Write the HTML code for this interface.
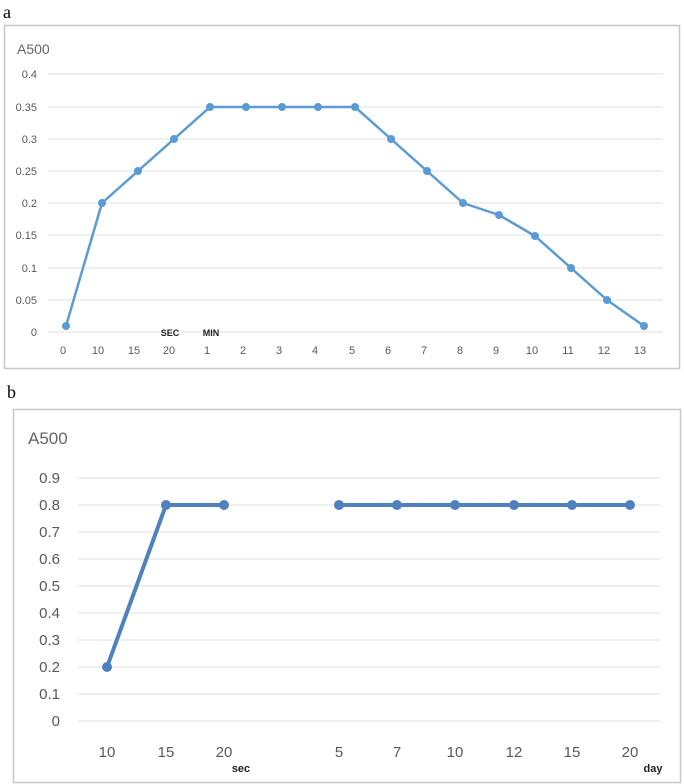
<!DOCTYPE html>
<html><head><meta charset="utf-8"><style>
html,body{margin:0;padding:0;background:#fff;}
svg{display:block;}
</style></head><body>
<svg width="684" height="784" xmlns="http://www.w3.org/2000/svg" font-family="'Liberation Sans', sans-serif">
<text x="3" y="18" font-family="'Liberation Serif', serif" font-size="18" fill="#000">a</text>
<rect x="4.5" y="25.5" width="675" height="343" fill="#fff" stroke="#c8c8c8" stroke-width="1.5"/>
<text x="17" y="54" font-size="14" fill="#666">A500</text>
<g stroke="#e2e2e2" stroke-width="1">
<line x1="48" x2="663" y1="74" y2="74"/><line x1="48" x2="663" y1="107" y2="107"/>
<line x1="48" x2="663" y1="139" y2="139"/><line x1="48" x2="663" y1="171" y2="171"/>
<line x1="48" x2="663" y1="203" y2="203"/><line x1="48" x2="663" y1="235" y2="235"/>
<line x1="48" x2="663" y1="268" y2="268"/><line x1="48" x2="663" y1="300" y2="300"/>
<line x1="48" x2="663" y1="332" y2="332"/>
</g>
<g font-size="11" fill="#595959" text-anchor="end">
<text x="37" y="78">0.4</text><text x="37" y="111">0.35</text><text x="37" y="143">0.3</text>
<text x="37" y="175">0.25</text><text x="37" y="207">0.2</text><text x="37" y="239">0.15</text>
<text x="37" y="272">0.1</text><text x="37" y="304">0.05</text><text x="37" y="336">0</text>
</g>
<g font-size="11" fill="#595959" text-anchor="middle">
<text x="63" y="354">0</text><text x="98" y="354">10</text><text x="134" y="354">15</text><text x="169" y="354">20</text>
<text x="207" y="354">1</text><text x="243" y="354">2</text><text x="279" y="354">3</text><text x="315" y="354">4</text>
<text x="352" y="354">5</text><text x="388" y="354">6</text><text x="424" y="354">7</text><text x="460" y="354">8</text>
<text x="496" y="354">9</text><text x="532" y="354">10</text><text x="568" y="354">11</text><text x="604" y="354">12</text><text x="640" y="354">13</text>
</g>
<text x="170" y="336" font-size="9" font-weight="bold" fill="#222" text-anchor="middle">SEC</text>
<text x="211" y="336" font-size="9" font-weight="bold" fill="#222" text-anchor="middle">MIN</text>
<polyline fill="none" stroke="#5b9bd5" stroke-width="2.5" stroke-linejoin="round" points="66,326 102,203 138,171 174,139 210,107 246,107 282,107 318,107 355,107 391,139 427,171 463,203 499,215 535,236 571,268 607,300 644,326"/>
<g fill="#5b9bd5">
<circle cx="66" cy="326" r="4"/><circle cx="102" cy="203" r="4"/><circle cx="138" cy="171" r="4"/><circle cx="174" cy="139" r="4"/>
<circle cx="210" cy="107" r="4"/><circle cx="246" cy="107" r="4"/><circle cx="282" cy="107" r="4"/><circle cx="318" cy="107" r="4"/>
<circle cx="355" cy="107" r="4"/><circle cx="391" cy="139" r="4"/><circle cx="427" cy="171" r="4"/><circle cx="463" cy="203" r="4"/>
<circle cx="499" cy="215" r="4"/><circle cx="535" cy="236" r="4"/><circle cx="571" cy="268" r="4"/><circle cx="607" cy="300" r="4"/><circle cx="644" cy="326" r="4"/>
</g>

<text x="7" y="398" font-family="'Liberation Serif', serif" font-size="18" fill="#000">b</text>
<rect x="13.5" y="409.5" width="667" height="373" fill="#fff" stroke="#c8c8c8" stroke-width="1.5"/>
<text x="28" y="444" font-size="17" fill="#666">A500</text>
<g stroke="#e2e2e2" stroke-width="1">
<line x1="78" x2="660" y1="478" y2="478"/><line x1="78" x2="660" y1="505" y2="505"/>
<line x1="78" x2="660" y1="532" y2="532"/><line x1="78" x2="660" y1="559" y2="559"/>
<line x1="78" x2="660" y1="586" y2="586"/><line x1="78" x2="660" y1="613" y2="613"/>
<line x1="78" x2="660" y1="640" y2="640"/><line x1="78" x2="660" y1="667" y2="667"/>
<line x1="78" x2="660" y1="694" y2="694"/><line x1="78" x2="660" y1="721" y2="721"/>
</g>
<g font-size="15" fill="#595959" text-anchor="end">
<text x="60" y="483">0.9</text><text x="60" y="510">0.8</text><text x="60" y="537">0.7</text>
<text x="60" y="564">0.6</text><text x="60" y="591">0.5</text><text x="60" y="618">0.4</text>
<text x="60" y="645">0.3</text><text x="60" y="672">0.2</text><text x="60" y="699">0.1</text><text x="60" y="726">0</text>
</g>
<g font-size="15" fill="#595959" text-anchor="middle">
<text x="107" y="757">10</text><text x="166" y="757">15</text><text x="224" y="757">20</text>
<text x="339" y="757">5</text><text x="397" y="757">7</text><text x="455" y="757">10</text>
<text x="514" y="757">12</text><text x="572" y="757">15</text><text x="630" y="757">20</text>
</g>
<text x="241" y="772" font-size="11" font-weight="bold" fill="#222" text-anchor="middle">sec</text>
<text x="653" y="772" font-size="11" font-weight="bold" fill="#222" text-anchor="middle">day</text>
<g fill="none" stroke="#4f81bd" stroke-width="4" stroke-linejoin="round">
<polyline points="107,667 166,505 224,505"/>
<polyline points="339,505 630,505"/>
</g>
<g fill="#4f81bd">
<circle cx="107" cy="667" r="5"/><circle cx="166" cy="505" r="5"/><circle cx="224" cy="505" r="5"/>
<circle cx="339" cy="505" r="5"/><circle cx="397" cy="505" r="5"/><circle cx="455" cy="505" r="5"/>
<circle cx="514" cy="505" r="5"/><circle cx="572" cy="505" r="5"/><circle cx="630" cy="505" r="5"/>
</g>
</svg>
</body></html>
